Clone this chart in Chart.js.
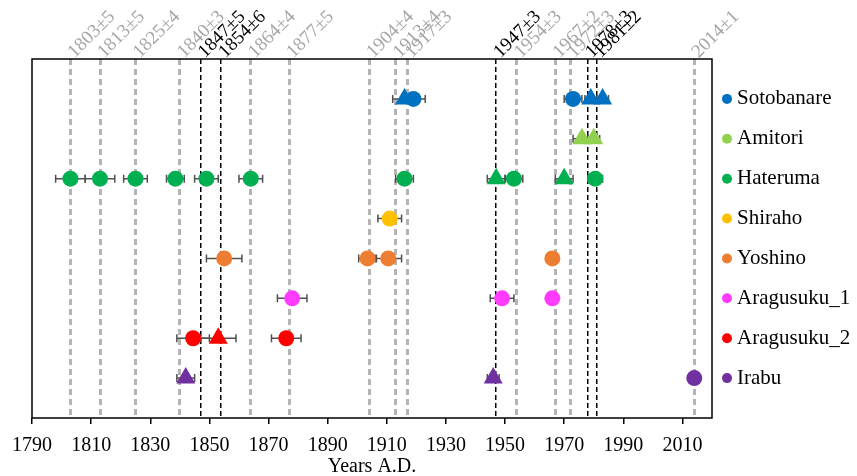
<!DOCTYPE html>
<html>
<head>
<meta charset="utf-8">
<script src="https://cdn.jsdelivr.net/npm/chart.js@4"></script>
<style>
  body { margin: 0; background: #fff; }
</style>
</head>
<body>
<canvas id="chart" width="857" height="476"></canvas>
<script>
const sites = ['Sotobanare', 'Amitori', 'Hateruma', 'Shiraho', 'Yoshino', 'Aragusuku_1', 'Aragusuku_2', 'Irabu'];
const siteColors = ['#0070C0', '#92D050', '#00B050', '#FFC000', '#ED7D31', '#FF3BFF', '#FF0000', '#7030A0'];

// dated events per site (years A.D.), their +/- errors and marker shape (c = circle, t = triangle)
const years = [
  [1916, 1919, 1973, 1979, 1983],
  [1976, 1980],
  [1803, 1813, 1825, 1838.5, 1849, 1864, 1916, 1947, 1953, 1970, 1980.5],
  [1911],
  [1855, 1903.5, 1910.5, 1966],
  [1878, 1949, 1966],
  [1844.5, 1853, 1876],
  [1842, 1946, 2014]
];
const errors = [
  [4, 4, 3, 2, 2],
  [3, 2],
  [5, 5, 4, 3, 4, 4, 3, 3, 3, 3, 2.5],
  [4],
  [6, 3, 4.5, 1],
  [5, 4, 1],
  [5.5, 6, 5],
  [3, 2, 1]
];
const shapes = [
  ['t', 'c', 'c', 't', 't'],
  ['t', 't'],
  ['c', 'c', 'c', 'c', 'c', 'c', 'c', 't', 'c', 't', 'c'],
  ['c'],
  ['c', 'c', 'c', 'c'],
  ['c', 'c', 'c'],
  ['c', 't', 'c'],
  ['t', 't', 'c']
];

// event lines across the top
const eventYears = [1803, 1813, 1825, 1840, 1847, 1854, 1864, 1877, 1904, 1913, 1917, 1947, 1954, 1967, 1972, 1978, 1981, 2014];
const eventErrors = [5, 5, 4, 3, 5, 6, 4, 5, 4, 4, 3, 3, 3, 2, 3, 3, 2, 1];
const eventKey = [false, false, false, false, true, true, false, false, false, false, false, true, false, false, false, true, true, false];

const xTicks = [1790, 1810, 1830, 1850, 1870, 1890, 1910, 1930, 1950, 1970, 1990, 2010];

const serif = 'Liberation Serif';
const greyLine = '#b4b4b4';

const errorBars = {
  id: 'errorBars',
  beforeDatasetsDraw(chart) {
    const ctx = chart.ctx;
    const xs = chart.scales.x;
    ctx.save();
    ctx.strokeStyle = '#505050';
    ctx.lineWidth = 1.5;
    chart.data.datasets.forEach((ds, i) => {
      const meta = chart.getDatasetMeta(i);
      meta.data.forEach((pt, j) => {
        const e = errors[i][j];
        const x1 = xs.getPixelForValue(ds.data[j].x - e);
        const x2 = xs.getPixelForValue(ds.data[j].x + e);
        const y = pt.y;
        ctx.beginPath();
        ctx.moveTo(x1, y); ctx.lineTo(x2, y);
        ctx.moveTo(x1, y - 4); ctx.lineTo(x1, y + 4);
        ctx.moveTo(x2, y - 4); ctx.lineTo(x2, y + 4);
        ctx.stroke();
      });
    });
    ctx.restore();
  }
};

const frameAndKeys = {
  id: 'frameAndKeys',
  afterDraw(chart) {
    const ctx = chart.ctx;
    const a = chart.chartArea;
    const ys = chart.scales.y;
    ctx.save();
    ctx.strokeStyle = '#000';
    ctx.lineWidth = 1.5;
    ctx.strokeRect(a.left, a.top, a.right - a.left, a.bottom - a.top);
    sites.forEach((s, i) => {
      ctx.fillStyle = siteColors[i];
      ctx.beginPath();
      ctx.arc(a.right + 15, ys.getPixelForValue(i + 1), 5, 0, Math.PI * 2);
      ctx.fill();
    });
    ctx.restore();
  }
};

const datasets = sites.map((name, i) => ({
  label: name,
  data: years[i].map(v => ({x: v, y: i + 1})),
  backgroundColor: siteColors[i],
  borderColor: siteColors[i],
  borderWidth: 0,
  pointStyle: shapes[i].map(s => s === 't' ? 'triangle' : 'circle'),
  pointRadius: shapes[i].map(s => s === 't' ? 11 : 8),
  pointHoverRadius: shapes[i].map(s => s === 't' ? 11 : 8)
}));

new Chart(document.getElementById('chart').getContext('2d'), {
  type: 'scatter',
  data: {datasets: datasets},
  plugins: [errorBars, frameAndKeys],
  options: {
    responsive: false,
    animation: false,
    devicePixelRatio: 1,
    layout: {padding: {left: 32, right: 0, top: 0, bottom: 0}},
    plugins: {
      legend: {display: false},
      tooltip: {enabled: false}
    },
    scales: {
      x: {
        type: 'linear',
        position: 'bottom',
        min: 1790,
        max: 2020,
        afterBuildTicks: s => { s.ticks = xTicks.map(v => ({value: v})); },
        afterFit: s => { s.height = 58; },
        ticks: {
          autoSkip: false,
          maxRotation: 0,
          padding: 10,
          color: '#000',
          font: {family: serif, size: 20},
          callback: v => String(v)
        },
        grid: {
          display: true,
          drawOnChartArea: false,
          drawTicks: true,
          tickLength: 6,
          color: '#000',
          lineWidth: 1.5
        },
        border: {display: false},
        title: {
          display: true,
          text: 'Years A.D.',
          color: '#000',
          font: {family: serif, size: 20},
          padding: {top: 0, bottom: -3}
        }
      },
      x2: {
        type: 'linear',
        position: 'top',
        min: 1790,
        max: 2020,
        afterBuildTicks: s => { s.ticks = eventYears.map(v => ({value: v})); },
        afterFit: s => { s.height = 59; },
        ticks: {
          autoSkip: false,
          minRotation: 45,
          maxRotation: 45,
          padding: -4,
          labelOffset: 17,
          font: {family: serif, size: 19},
          color: c => eventKey[c.index] ? '#000' : '#a6a6a6',
          callback: (v, i) => eventYears[i] + '±' + eventErrors[i]
        },
        grid: {
          drawOnChartArea: true,
          drawTicks: false,
          color: c => eventKey[c.index] ? '#000' : greyLine,
          lineWidth: c => eventKey[c.index] ? 1.5 : 3
        },
        border: {
          display: false,
          dash: c => (c.index !== undefined && eventKey[c.index]) ? [5, 3] : [6, 4]
        }
      },
      y: {
        type: 'linear',
        position: 'right',
        min: 0,
        max: 9,
        reverse: true,
        afterBuildTicks: s => { s.ticks = sites.map((n, i) => ({value: i + 1})); },
        afterFit: s => { s.width = 145; },
        ticks: {
          autoSkip: false,
          padding: 25,
          color: '#000',
          font: {family: serif, size: 21},
          callback: (v, i) => sites[i]
        },
        grid: {display: false, drawTicks: false},
        border: {display: false}
      }
    }
  }
});
</script>
</body>
</html>
